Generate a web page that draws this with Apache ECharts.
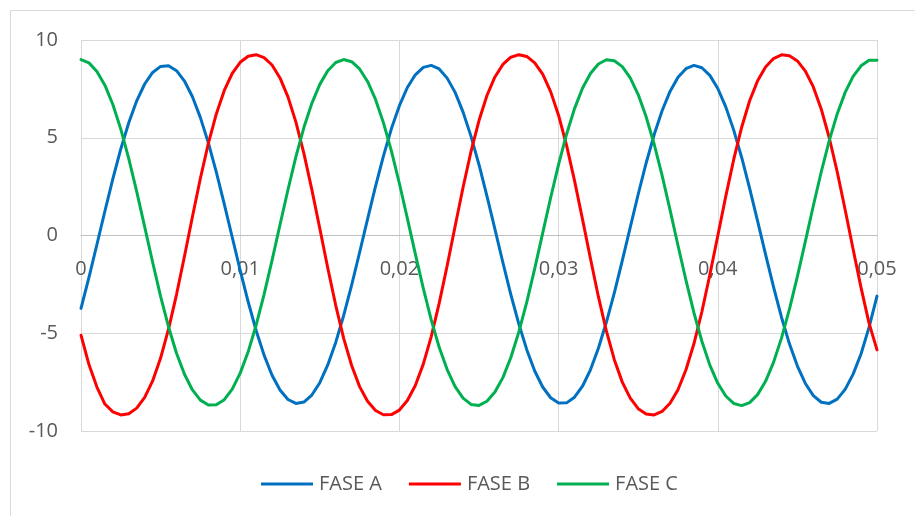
<!DOCTYPE html>
<html>
<head>
<meta charset="utf-8">
<script src="https://cdn.jsdelivr.net/npm/echarts@6/dist/echarts.min.js"></script>
<style>
  html, body { margin: 0; padding: 0; background: #ffffff; }
  #chart { width: 915px; height: 516px; }
</style>
</head>
<body>
<div id="chart"></div>
<script>
// Time (s)
var tiempo = [0,0.0005,0.001,0.0015,0.002,0.0025,0.003,0.0035,0.004,0.0045,
  0.005,0.0055,0.006,0.0065,0.007,0.0075,0.008,0.0085,0.009,0.0095,
  0.010,0.0105,0.011,0.0115,0.012,0.0125,0.013,0.0135,0.014,0.0145,
  0.015,0.0155,0.016,0.0165,0.017,0.0175,0.018,0.0185,0.019,0.0195,
  0.020,0.0205,0.021,0.0215,0.022,0.0225,0.023,0.0235,0.024,0.0245,
  0.025,0.0255,0.026,0.0265,0.027,0.0275,0.028,0.0285,0.029,0.0295,
  0.030,0.0305,0.031,0.0315,0.032,0.0325,0.033,0.0335,0.034,0.0345,
  0.035,0.0355,0.036,0.0365,0.037,0.0375,0.038,0.0385,0.039,0.0395,
  0.040,0.0405,0.041,0.0415,0.042,0.0425,0.043,0.0435,0.044,0.0445,
  0.045,0.0455,0.046,0.0465,0.047,0.0475,0.048,0.0485,0.049,0.0495,
  0.050];

var faseA = [-3.73,-2.14,-0.46,1.24,2.90,4.43,5.77,6.89,7.75,8.34,
  8.65,8.68,8.43,7.90,7.10,6.03,4.74,3.24,1.61,-0.09,
  -1.78,-3.39,-4.86,-6.12,-7.15,-7.90,-8.39,-8.59,-8.52,-8.16,
  -7.53,-6.62,-5.47,-4.09,-2.54,-0.87,0.84,2.51,4.07,5.47,
  6.64,7.57,8.22,8.60,8.70,8.52,8.05,7.32,6.31,5.07,
  3.62,2.02,0.33,-1.38,-3.02,-4.52,-5.84,-6.93,-7.75,-8.30,
  -8.57,-8.56,-8.27,-7.71,-6.87,-5.77,-4.44,-2.93,-1.28,0.42,
  2.11,3.71,5.15,6.38,7.37,8.09,8.53,8.70,8.58,8.19,
  7.52,6.58,5.39,3.99,2.41,0.74,-0.97,-2.63,-4.18,-5.54,
  -6.68,-7.57,-8.19,-8.53,-8.59,-8.37,-7.87,-7.09,-6.05,-4.70,
  -3.10];

var faseB = [-5.10,-6.60,-7.75,-8.62,-9.02,-9.18,-9.12,-8.83,-8.28,-7.44,
  -6.27,-4.78,-3.02,-1.06,0.96,2.93,4.71,6.22,7.42,8.29,
  8.86,9.17,9.25,9.10,8.72,8.06,7.09,5.80,4.20,2.35,
  0.36,-1.66,-3.57,-5.26,-6.65,-7.73,-8.48,-8.95,-9.17,-9.16,
  -8.93,-8.44,-7.67,-6.58,-5.17,-3.46,-1.55,0.47,2.47,4.30,
  5.88,7.16,8.11,8.75,9.12,9.25,9.16,8.83,8.25,7.36,
  6.14,4.61,2.81,0.84,-1.18,-3.13,-4.88,-6.35,-7.50,-8.32,
  -8.86,-9.13,-9.18,-9.00,-8.58,-7.89,-6.87,-5.54,-3.90,-2.01,
  -0.01,2.00,3.89,5.54,6.89,7.91,8.62,9.05,9.24,9.20,
  8.93,8.41,7.60,6.46,5.00,3.26,1.32,-0.70,-2.68,-4.48,
  -5.85];

var faseC = [9.00,8.83,8.39,7.69,6.70,5.44,3.93,2.24,0.44,-1.37,
  -3.11,-4.68,-6.02,-7.10,-7.90,-8.42,-8.67,-8.66,-8.40,-7.86,
  -7.04,-5.95,-4.59,-3.01,-1.27,0.55,2.34,4.03,5.52,6.76,
  7.73,8.43,8.85,9.00,8.89,8.52,7.88,6.96,5.76,4.32,
  2.66,0.88,-0.94,-2.70,-4.32,-5.72,-6.86,-7.73,-8.32,-8.64,
  -8.69,-8.48,-8.01,-7.27,-6.24,-4.94,-3.41,-1.69,0.12,1.93,
  3.64,5.18,6.49,7.53,8.29,8.77,8.99,8.94,8.64,8.06,
  7.21,6.07,4.68,3.07,1.31,-0.51,-2.29,-3.95,-5.41,-6.63,
  -7.56,-8.21,-8.59,-8.70,-8.55,-8.14,-7.46,-6.49,-5.25,-3.77,
  -2.09,-0.30,1.52,3.26,4.85,6.22,7.32,8.14,8.68,8.96,
  8.97];

var seriesNames = ['FASE A', 'FASE B', 'FASE C'];
var seriesColors = ['#0070C0', '#FF0000', '#00B050'];

function pairs(xs, ys) {
  var out = [];
  for (var i = 0; i < xs.length; i++) out.push([xs[i], ys[i]]);
  return out;
}

var chart = echarts.init(document.getElementById('chart'), null, { renderer: 'canvas' });
var fontFam = '"Open Sans", "Noto Sans", sans-serif';
var txtColor = '#595959';

var values = [faseA, faseB, faseC];
var series = values.map(function (v, i) {
  return {
    name: seriesNames[i],
    type: 'line',
    data: pairs(tiempo, v),
    symbol: 'none',
    smooth: false,
    lineStyle: { color: seriesColors[i], width: 3, cap: 'round', join: 'round' },
    itemStyle: { color: seriesColors[i] },
    animation: false
  };
});

chart.setOption({
  backgroundColor: '#ffffff',
  animation: false,
  textStyle: { fontFamily: fontFam },
  graphic: [{
    type: 'rect',
    shape: { x: 10.5, y: 10.5, width: 1000, height: 1000 },
    style: { fill: 'none', stroke: '#d9d9d9', lineWidth: 1 },
    silent: true,
    z: -10
  }],
  grid: { left: 81, right: 38, top: 40, bottom: 85, containLabel: false },
  legend: {
    data: seriesNames,
    left: 261,
    top: 474,
    padding: 0,
    itemGap: 27,
    itemWidth: 52,
    itemHeight: 3,
    icon: 'rect',
    textStyle: { fontSize: 20, color: txtColor, fontFamily: fontFam, padding: [0, 0, 0, 1] }
  },
  xAxis: {
    type: 'value',
    min: 0,
    max: 0.05,
    interval: 0.01,
    offset: -195.5,
    axisLine: { show: true, onZero: false, lineStyle: { color: '#bfbfbf', width: 1 } },
    axisTick: { show: false },
    axisLabel: {
      fontSize: 20,
      color: txtColor,
      fontFamily: fontFam,
      margin: 24,
      showMinLabel: true,
      showMaxLabel: true,
      formatter: function (v) {
        if (v === 0) return '0';
        return (Math.round(v * 100) / 100).toFixed(2).replace('.', ',');
      }
    },
    splitLine: { show: true, lineStyle: { color: '#d9d9d9', width: 1 } }
  },
  yAxis: {
    type: 'value',
    min: -10,
    max: 10,
    interval: 5,
    axisLine: { show: false },
    axisTick: { show: false },
    axisLabel: { fontSize: 20, color: txtColor, fontFamily: fontFam, margin: 23 },
    splitLine: { show: true, lineStyle: { color: '#d9d9d9', width: 1 } }
  },
  series: series
});
</script>
</body>
</html>
